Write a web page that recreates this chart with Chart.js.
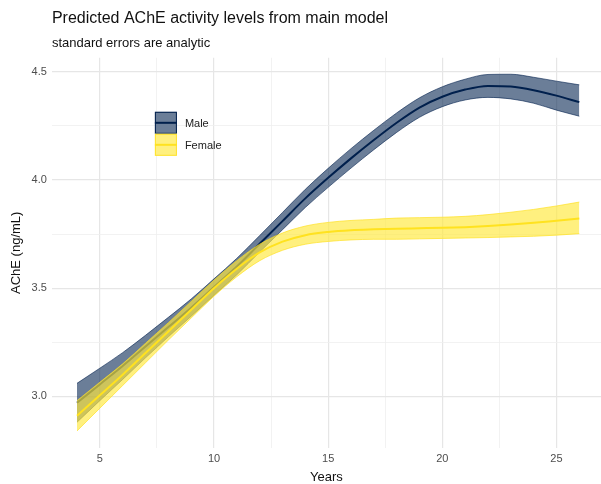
<!DOCTYPE html>
<html>
<head>
<meta charset="utf-8">
<script src="https://cdn.jsdelivr.net/npm/chart.js@4.4.1/dist/chart.umd.min.js"></script>
<style>
  html, body { margin: 0; padding: 0; background: #fff; overflow: hidden; }
  #wrap { width: 601px; height: 484px; }
</style>
</head>
<body>
<div id="wrap"><canvas id="acheChart" width="601" height="484"></canvas></div>
<script>
// values
const years = [4, 5, 6, 7, 8, 9, 10, 11, 12, 13, 14, 15, 16, 17, 18, 19, 20, 21, 22, 23, 24, 25, 26];

const maleFit  = [2.97, 3.055, 3.14, 3.23, 3.32, 3.41, 3.505, 3.60, 3.705, 3.81, 3.915, 4.01, 4.10, 4.185, 4.265, 4.335, 4.385, 4.418, 4.435, 4.432, 4.415, 4.39, 4.36];
const maleLow  = [2.88, 2.98, 3.078, 3.178, 3.275, 3.37, 3.467, 3.562, 3.667, 3.77, 3.873, 3.966, 4.055, 4.14, 4.22, 4.29, 4.339, 4.37, 4.382, 4.375, 4.355, 4.323, 4.295];
const maleHigh = [3.06, 3.13, 3.202, 3.282, 3.365, 3.45, 3.543, 3.638, 3.743, 3.85, 3.957, 4.054, 4.145, 4.23, 4.31, 4.38, 4.431, 4.466, 4.488, 4.489, 4.475, 4.457, 4.44];

const femaleFit  = [2.91, 3.005, 3.10, 3.20, 3.30, 3.40, 3.50, 3.59, 3.665, 3.715, 3.745, 3.76, 3.768, 3.772, 3.775, 3.777, 3.779, 3.782, 3.787, 3.794, 3.802, 3.812, 3.822];
const femaleLow  = [2.84, 2.945, 3.05, 3.155, 3.26, 3.362, 3.463, 3.553, 3.627, 3.675, 3.703, 3.716, 3.723, 3.726, 3.726, 3.728, 3.73, 3.732, 3.734, 3.737, 3.74, 3.745, 3.752];
const femaleHigh = [2.98, 3.065, 3.15, 3.245, 3.34, 3.438, 3.537, 3.627, 3.703, 3.755, 3.787, 3.804, 3.813, 3.818, 3.824, 3.826, 3.828, 3.832, 3.84, 3.851, 3.864, 3.88, 3.898];

const xTicks = [5, 7.5, 10, 12.5, 15, 17.5, 20, 22.5, 25];
const yTicks = [3.0, 3.25, 3.5, 3.75, 4.0, 4.25, 4.5];
const groups = ['Male', 'Female'];

const NAVY = '#00204D';
const NAVY_FILL = 'rgba(0, 32, 77, 0.58)';
const NAVY_EDGE = 'rgba(0, 32, 77, 0.75)';
const YELLOW = '#FFE21F';
const YELLOW_FILL = 'rgba(255, 232, 60, 0.66)';
const YELLOW_EDGE = 'rgba(255, 224, 30, 0.85)';

Chart.defaults.font.family = "'Liberation Sans', Arial, sans-serif";

function pts(arr) {
  return years.map((yr, i) => ({ x: yr, y: arr[i] }));
}

function isHalf(v) {
  return Math.abs(v * 2 - Math.round(v * 2)) < 1e-9;
}

const lineOpts = { pointRadius: 0, tension: 0.4, cubicInterpolationMode: 'monotone' };

//legend drawn inside the panel, like ggplot
const insideLegend = {
  id: 'insideLegend',
  afterDraw(chart) {
    const ctx = chart.ctx;
    const a = chart.chartArea;
    const x0 = a.left + 103, y0 = a.top + 54, w = 22, h = 22;
    const keys = [
      { fill: NAVY_FILL, edge: NAVY, line: NAVY },
      { fill: YELLOW_FILL, edge: YELLOW_EDGE, line: YELLOW }
    ];
    ctx.save();
    keys.forEach((k, i) => {
      const y = y0 + i * h;
      ctx.fillStyle = '#fff';
      ctx.fillRect(x0, y, w, h);
      ctx.fillStyle = k.fill;
      ctx.fillRect(x0, y, w, h);
      ctx.strokeStyle = k.edge;
      ctx.lineWidth = 1;
      ctx.strokeRect(x0 + 0.5, y + 0.5, w - 1, h - 1);
      ctx.strokeStyle = k.line;
      ctx.lineWidth = 2;
      ctx.beginPath();
      ctx.moveTo(x0, y + h / 2);
      ctx.lineTo(x0 + w, y + h / 2);
      ctx.stroke();
      ctx.fillStyle = '#222';
      ctx.font = "11px 'Liberation Sans', Arial, sans-serif";
      ctx.textBaseline = 'middle';
      ctx.fillText(groups[i], x0 + w + 8, y + h / 2 + 1);
    });
    ctx.restore();
  }
};

const ctx = document.getElementById('acheChart').getContext('2d');
const acheChart = new Chart(ctx, {
  type: 'line',
  data: {
    datasets: [
      { label: 'Male low', data: pts(maleLow), borderColor: NAVY_EDGE, borderWidth: 0.8, fill: false, order: 3, ...lineOpts },
      { label: 'Male high', data: pts(maleHigh), borderColor: NAVY_EDGE, borderWidth: 0.8, backgroundColor: NAVY_FILL, fill: '-1', order: 3, ...lineOpts },
      { label: 'Male', data: pts(maleFit), borderColor: NAVY, borderWidth: 2, fill: false, order: 2, ...lineOpts },
      { label: 'Female low', data: pts(femaleLow), borderColor: YELLOW_EDGE, borderWidth: 0.8, fill: false, order: 1, ...lineOpts },
      { label: 'Female high', data: pts(femaleHigh), borderColor: YELLOW_EDGE, borderWidth: 0.8, backgroundColor: YELLOW_FILL, fill: '-1', order: 1, ...lineOpts },
      { label: 'Female', data: pts(femaleFit), borderColor: YELLOW, borderWidth: 2, fill: false, order: 0, ...lineOpts }
    ]
  },
  options: {
    responsive: false,
    animation: false,
    layout: { padding: { left: 3, right: 0, top: 0, bottom: 0 } },
    plugins: {
      legend: { display: false },
      tooltip: { enabled: false },
      title: {
        display: true, text: 'Predicted AChE activity levels from main model',
        align: 'start', fullSize: false, color: '#111',
        font: { size: 16, weight: 'normal' }, padding: { top: 9, bottom: 2 }
      },
      subtitle: {
        display: true, text: 'standard errors are analytic',
        align: 'start', fullSize: false, color: '#111',
        font: { size: 13 }, padding: { top: 5, bottom: 7 }
      }
    },
    scales: {
      x: {
        type: 'linear', min: 2.9, max: 26.95,
        afterBuildTicks: s => { s.ticks = xTicks.map(v => ({ value: v })); },
        ticks: { autoSkip: false, maxRotation: 0, color: '#4d4d4d', font: { size: 11 }, padding: 5,
                 callback: v => (v % 5 === 0 ? String(v) : '') },
        grid: { drawTicks: false, color: c => (c.tick && c.tick.value % 5 === 0 ? '#e6e6e6' : '#efefef'),
                lineWidth: c => (c.tick && c.tick.value % 5 === 0 ? 1.2 : 0.8) },
        border: { display: false },
        title: { display: true, text: 'Years', color: '#111', font: { size: 13, lineHeight: 1 }, padding: { top: 0, bottom: 0 } }
      },
      y: {
        type: 'linear', min: 2.762, max: 4.565,
        afterBuildTicks: s => { s.ticks = yTicks.map(v => ({ value: v })); },
        ticks: { autoSkip: false, color: '#4d4d4d', font: { size: 11 }, padding: 5,
                 callback: v => (isHalf(v) ? v.toFixed(1) : '') },
        grid: { drawTicks: false, color: c => (c.tick && isHalf(c.tick.value) ? '#e6e6e6' : '#efefef'),
                lineWidth: c => (c.tick && isHalf(c.tick.value) ? 1.2 : 0.8) },
        border: { display: false },
        title: { display: true, text: 'AChE (ng/mL)', color: '#111', font: { size: 13 }, padding: { top: 6, bottom: 2 } }
      }
    }
  },
  plugins: [insideLegend]
});
</script>
</body>
</html>
